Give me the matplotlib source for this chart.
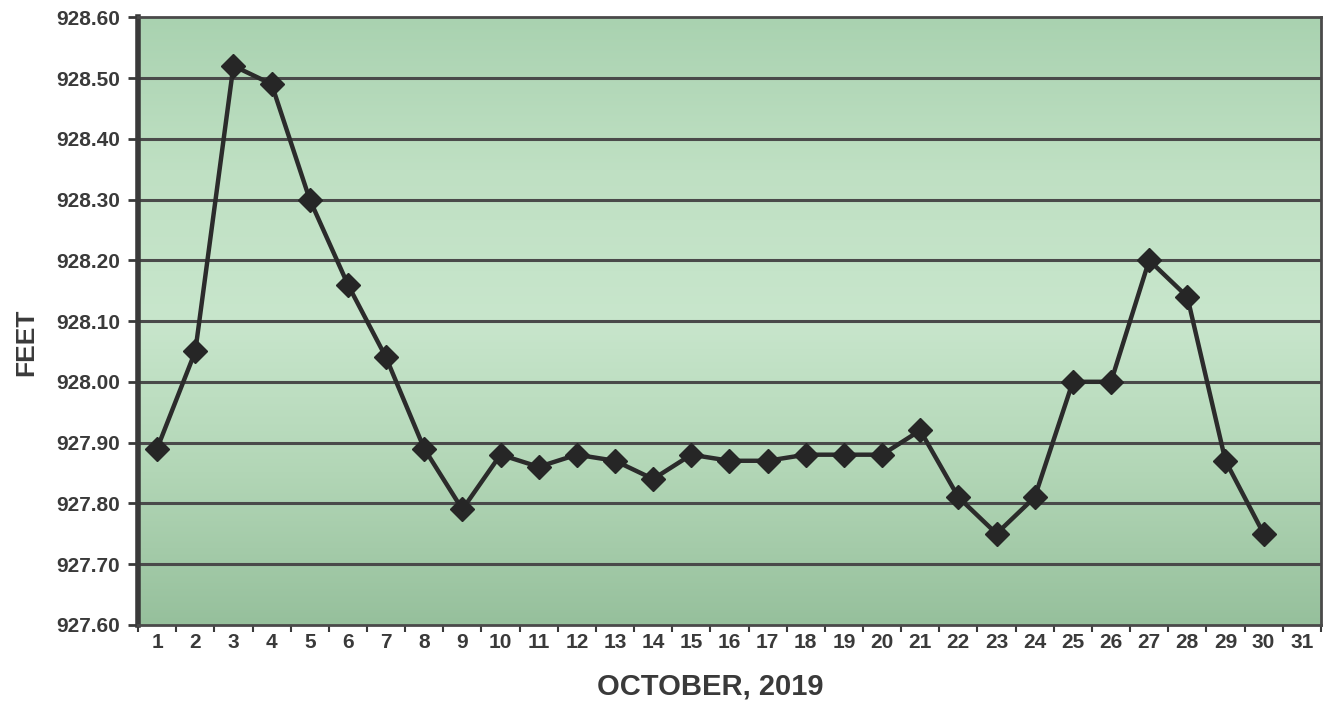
import numpy as np
import matplotlib
matplotlib.use("Agg")
import matplotlib.pyplot as plt
from matplotlib.colors import LinearSegmentedColormap

# daily readings, October 2019
days = list(range(1, 31))
feet = [927.89, 928.05, 928.52, 928.49, 928.30, 928.16, 928.04, 927.89, 927.79, 927.88,
        927.86, 927.88, 927.87, 927.84, 927.88, 927.87, 927.87, 927.88, 927.88, 927.88,
        927.92, 927.81, 927.75, 927.81, 928.00, 928.00, 928.20, 928.14, 927.87, 927.75]
day_labels = [str(d) for d in range(1, 32)]
y_ticks = [927.60, 927.70, 927.80, 927.90, 928.00, 928.10, 928.20, 928.30, 928.40, 928.50, 928.60]

plt.rcParams['font.family'] = ['Liberation Sans', 'DejaVu Sans']
ink = '#3a3a3a'

fig = plt.figure(figsize=(13.35, 7.19), dpi=100)
ax = fig.add_axes([0.1034, 0.131, 0.886, 0.845])

# green gradient background, first colour is the top
cmap = LinearSegmentedColormap.from_list(
    'bg', ['#a9d2b0', '#bfe0c3', '#c8e6cc', '#b2d6b6', '#96c09c'])
grad = np.linspace(0, 1, 256).reshape(-1, 1)
ax.imshow(grad, cmap=cmap, aspect='auto', origin='upper',
          extent=[0.5, 31.5, 927.60, 928.60], zorder=0, interpolation='bicubic')

ax.set_xlim(0.5, 31.5)
ax.set_ylim(927.60, 928.60)

for yv in y_ticks[1:-1]:
    ax.axhline(yv, color='#4a4a4a', lw=2.2, zorder=1)

ax.plot(days, feet, color='#2b2b2b', lw=3.2, marker='D', ms=12,
        markerfacecolor='#262626', markeredgecolor='#262626', zorder=3)

ax.set_yticks(y_ticks)
ax.set_yticklabels(['%.2f' % v for v in y_ticks], fontsize=15, fontweight='bold', color=ink)
ax.set_xticks(range(1, 32))
ax.set_xticklabels(day_labels, fontsize=15, fontweight='bold', color=ink)
ax.set_xticks(np.arange(0.5, 32, 1), minor=True)
ax.tick_params(axis='x', which='major', length=0, pad=6)
ax.tick_params(axis='x', which='minor', length=5, width=1.5, color=ink)
ax.tick_params(axis='y', length=7, width=2, color=ink, pad=6)

for side in ['top', 'right', 'bottom']:
    ax.spines[side].set_color('#4a4a4a')
    ax.spines[side].set_linewidth(2)
ax.spines['left'].set_color(ink)
ax.spines['left'].set_linewidth(4)

ax.set_ylabel('FEET', fontsize=19, fontweight='bold', color=ink)
ax.yaxis.set_label_coords(-0.084, 0.465)
ax.set_xlabel('OCTOBER, 2019', fontsize=21, fontweight='bold', color=ink)
ax.xaxis.set_label_coords(0.484, -0.078)

fig.savefig('out.png', dpi=100, facecolor='white')
